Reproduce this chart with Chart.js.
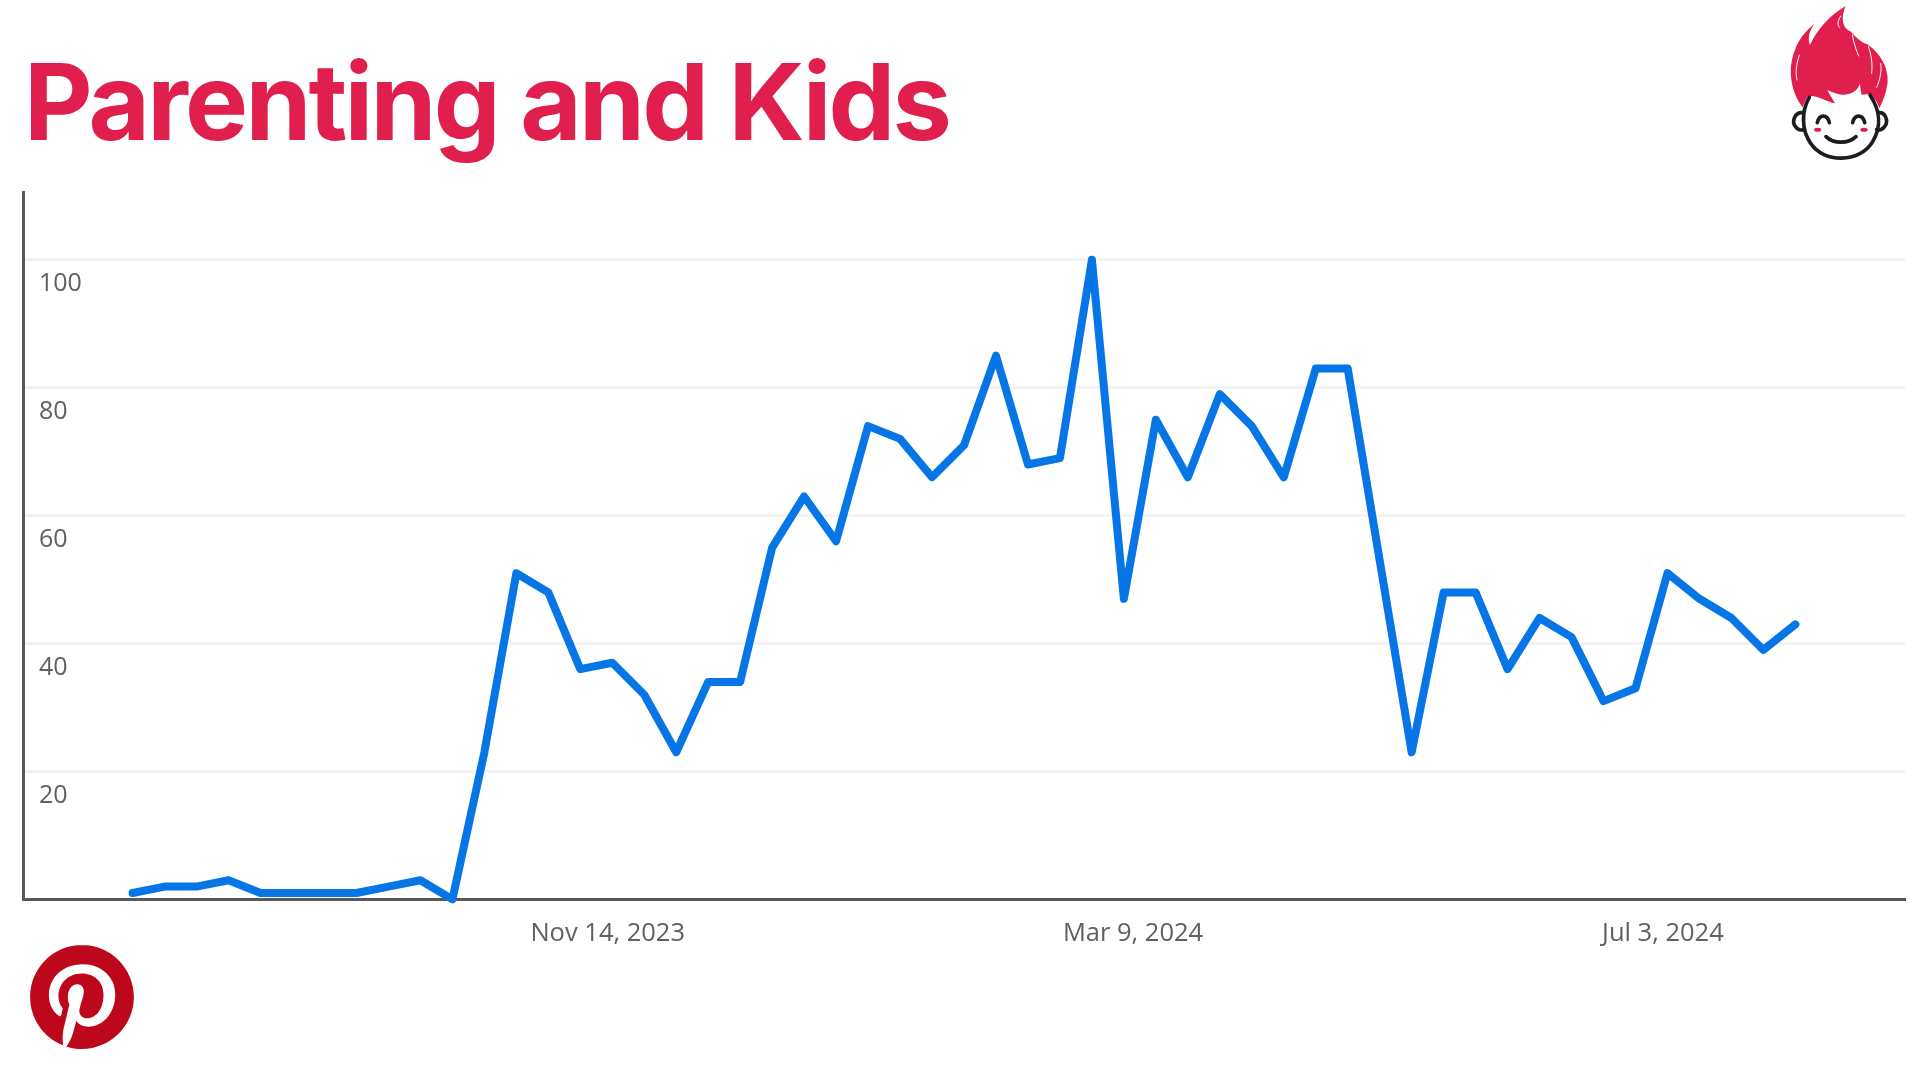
<!DOCTYPE html>
<html>
<head>
<meta charset="utf-8">
<title>Parenting and Kids</title>
<script src="https://cdn.jsdelivr.net/npm/chart.js@4"></script>
<style>
  html, body { margin: 0; padding: 0; background: #fff; }
  #page { position: relative; width: 1920px; height: 1080px; overflow: hidden; }
  #chart { position: absolute; left: 0; top: 0; }
  h1 {
    position: absolute; left: 24px; top: 37px; margin: 0; white-space: nowrap;
    font: 700 106px/130px Inter, sans-serif;
    letter-spacing: -2.8px; color: #e01f4d;
  }
  svg { position: absolute; }
</style>
</head>
<body>
<div id="page">
  <canvas id="chart" width="1920" height="1080"></canvas>
  <h1>Parenting and Kids</h1>

  <!-- mascot -->
  <svg style="left:1720px;top:0" width="200" height="180" viewBox="0 0 600 540">
    <path fill="#e01f4d" d="M248 322C215 280 200 210 225 150C235 120 255 95 282 72C268 95 262 115 270 135C290 90 330 45 377 18C362 50 365 85 393 95C410 115 430 130 442 133C480 160 505 200 503 245C500 275 490 300 478 325C472 305 462 290 447 282L425 284C422 275 421 262 420 250C412 280 375 298 322 270C330 285 338 298 345 310C320 305 295 285 265 288C258 295 252 310 248 322Z"/>
    <g fill="none" stroke="#fff" stroke-width="3" stroke-linecap="round">
      <path d="M238 165C228 195 226 220 231 240"/>
      <path d="M362 48C352 65 352 75 358 82"/>
      <path d="M397 105C402 130 408 150 416 168"/>
      <path d="M445 140C455 165 458 195 455 220"/>
      <path d="M482 190C486 210 480 240 470 262"/>
    </g>
    <g fill="none" stroke="#1d1d1f" stroke-width="11" stroke-linecap="round">
      <path d="M268 292C245 330 243 390 272 430C310 490 420 490 458 425C485 380 480 330 450 285"/>
      <path d="M248 338C225 335 215 365 225 378C232 390 245 392 252 388"/>
      <path d="M475 338C498 335 505 365 495 378C488 390 475 392 470 388"/>
      <path d="M292 368C298 342 322 342 328 368"/>
      <path d="M398 368C404 342 428 342 434 368"/>
      <path d="M318 410C340 432 385 432 408 410"/>
    </g>
    <ellipse cx="293" cy="389" rx="11" ry="6" fill="#e01f4d"/>
    <ellipse cx="432" cy="389" rx="11" ry="6" fill="#e01f4d"/>
  </svg>

  <!-- pinterest logo -->
  <svg style="left:30px;top:945px" width="104" height="104" viewBox="0 0 24 24">
    <circle cx="12" cy="12" r="11.6" fill="#fff"/>
    <path fill="#bd081c" d="M12.017 0C5.396 0 .029 5.367.029 11.987c0 5.079 3.158 9.417 7.618 11.162-.105-.949-.199-2.403.041-3.439.219-.937 1.406-5.957 1.406-5.957s-.359-.72-.359-1.781c0-1.663.967-2.911 2.168-2.911 1.024 0 1.518.769 1.518 1.688 0 1.029-.653 2.567-.992 3.992-.285 1.193.6 2.165 1.775 2.165 2.128 0 3.768-2.245 3.768-5.487 0-2.861-2.063-4.869-5.008-4.869-3.41 0-5.409 2.562-5.409 5.199 0 1.033.394 2.143.889 2.741.099.12.112.225.085.345-.09.375-.293 1.199-.334 1.363-.053.225-.172.271-.401.165-1.495-.69-2.433-2.878-2.433-4.646 0-3.776 2.748-7.252 7.92-7.252 4.158 0 7.392 2.967 7.392 6.923 0 4.135-2.607 7.462-6.233 7.462-1.214 0-2.354-.629-2.758-1.379l-.749 2.848c-.269 1.045-1.004 2.352-1.498 3.146 1.123.345 2.306.535 3.55.535 6.607 0 11.985-5.365 11.985-11.987C23.97 5.39 18.592.026 11.985.026L12.017 0z"/>
  </svg>
</div>

<script>
const weeks = [
  '2023-08-02', '2023-08-09', '2023-08-16', '2023-08-23', '2023-08-30', '2023-09-06',
  '2023-09-13', '2023-09-20', '2023-09-27', '2023-10-04', '2023-10-11', '2023-10-18',
  '2023-10-25', '2023-11-01', '2023-11-08', '2023-11-15', '2023-11-22', '2023-11-29',
  '2023-12-06', '2023-12-13', '2023-12-20', '2023-12-27', '2024-01-03', '2024-01-10',
  '2024-01-17', '2024-01-24', '2024-01-31', '2024-02-07', '2024-02-14', '2024-02-21',
  '2024-02-28', '2024-03-06', '2024-03-13', '2024-03-20', '2024-03-27', '2024-04-03',
  '2024-04-10', '2024-04-17', '2024-04-24', '2024-05-01', '2024-05-08', '2024-05-15',
  '2024-05-22', '2024-05-29', '2024-06-05', '2024-06-12', '2024-06-19', '2024-06-26',
  '2024-07-03', '2024-07-10', '2024-07-17', '2024-07-24', '2024-07-31'
];

const interest = [
  1, 2, 2, 3, 1, 1, 1, 1, 2, 3,
  0, 23, 51, 48, 36, 37, 32, 23, 34, 34,
  55, 63, 56, 74, 72, 66, 71, 85, 68, 69,
  100, 47, 75, 66, 79, 74, 66, 83, 83, 53,
  23, 48, 48, 36, 44, 41, 31, 33, 51, 47,
  44, 39, 43
];

// where the labels sit on the weekly scale
const xTickDates = ['2023-11-14', '2024-03-08', '2024-07-02'];
const xTickLabels = ['Nov 14, 2023', 'Mar 9, 2024', 'Jul 3, 2024'];
const yTicks = [20, 40, 60, 80, 100];

const toTime = s => Date.parse(s + 'T00:00:00Z');
const tickColor = '#5f6062';

new Chart(document.getElementById('chart'), {
  type: 'line',
  data: {
    datasets: [{
      data: weeks.map((w, i) => ({ x: toTime(w), y: interest[i] })),
      borderColor: '#0675e6',
      borderWidth: 8,
      borderJoinStyle: 'round',
      borderCapStyle: 'round',
      pointRadius: 0,
      tension: 0,
      clip: false
    }]
  },
  options: {
    responsive: false,
    devicePixelRatio: 1,
    animation: false,
    layout: { padding: { left: 23, right: 15, top: 192, bottom: 120 } },
    plugins: { legend: { display: false }, tooltip: { enabled: false } },
    scales: {
      x: {
        type: 'linear',
        min: toTime('2023-07-09'),
        max: toTime('2024-08-24'),
        afterBuildTicks(scale) {
          scale.ticks = xTickDates.map(d => ({ value: toTime(d) }));
        },
        grid: { display: false },
        border: { color: '#58585a', width: 3 },
        ticks: {
          autoSkip: false,
          maxRotation: 0,
          padding: 11,
          font: { family: "'Open Sans', sans-serif", size: 25.5 },
          color: tickColor,
          callback: value => xTickLabels[xTickDates.findIndex(d => toTime(d) === value)]
        }
      },
      y: {
        min: 0,
        max: 110.6,
        afterBuildTicks(scale) {
          scale.ticks = yTicks.map(v => ({ value: v }));
        },
        afterFit(scale) {
          scale.width = 0;
        },
        grid: { color: '#f3f3f3', lineWidth: 3, drawTicks: false },
        border: { color: '#58585a', width: 3 },
        ticks: {
          mirror: true,
          padding: 16,
          labelOffset: 24,
          font: { family: "'Open Sans', sans-serif", size: 25 },
          color: tickColor
        }
      }
    }
  }
});
</script>
</body>
</html>
